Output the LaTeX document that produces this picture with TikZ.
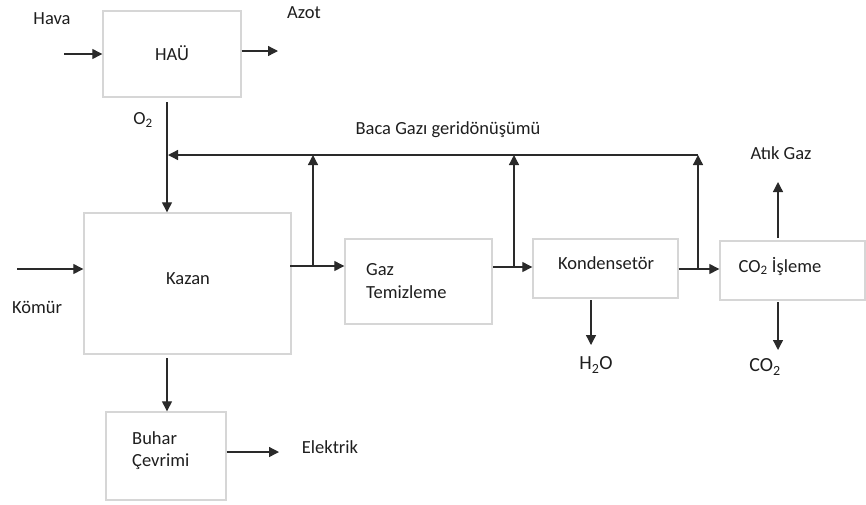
\documentclass[tikz,border=0pt]{standalone}
\usepackage{fontspec}
\setmainfont{Carlito}
\usetikzlibrary{arrows.meta}
\definecolor{boxline}{HTML}{D6D6D6}
\definecolor{flowline}{HTML}{2A2A2A}
\definecolor{ink}{HTML}{1E1E1E}
\begin{document}
\begin{tikzpicture}[x=1pt,y=-1pt,
  unit/.style={draw=boxline,line width=1.4pt,fill=white,inner sep=0pt},
  flow/.style={draw=flowline,line width=1.3pt,-{Triangle[length=10pt,width=10pt]}},
  plain/.style={draw=flowline,line width=1.3pt},
  tag/.style={text=ink,font=\fontsize{18.5}{23}\selectfont,inner sep=0pt},
  chem/.style={text=ink,font=\fontsize{20}{24}\selectfont,inner sep=0pt}]
\useasboundingbox (0,0) rectangle (866,504);

% process units
\node[unit,minimum width=138pt,minimum height=86pt] (hau)   at (172,54)    {};
\node[unit,minimum width=207pt,minimum height=141pt] (kazan) at (187.5,283.5) {};
\node[unit,minimum width=147pt,minimum height=85pt] (gaz)   at (418.5,281.5) {};
\node[unit,minimum width=145pt,minimum height=59pt] (kond)  at (605.5,268.5) {};
\node[unit,minimum width=145pt,minimum height=59pt] (co2)   at (792.5,270.5) {};
\node[unit,minimum width=120pt,minimum height=88pt] (buhar) at (166,456)   {};

% labels inside the units
\node[tag] (thau)   at (172,53)  {HAÜ};
\node[tag] (tkazan) at (188,279) {Kazan};
\node[tag,anchor=west,align=left] (tgaz) at (366,281.5) {Gaz\\Temizleme};
\node[tag] (tkond)  at (606,263) {Kondensetör};
\node[tag] (tco2)   at (780,266) {CO\textsubscript{2} İşleme};
\node[tag,anchor=west,align=left,font=\fontsize{18.5}{22}\selectfont] (tbuhar) at (132,451) {Buhar\\Çevrimi};

% stream labels
\node[tag] (lhava)  at (52,19)   {Hava};
\node[tag] (lazot)  at (304,13)  {Azot};
\node[tag] (lo2)    at (143,120) {O\textsubscript{2}};
\node[tag] (lbaca)  at (448,130) {Baca Gazı geridönüşümü};
\node[tag] (lkomur) at (37,307)  {Kömür};
\node[tag] (latik)  at (781,153) {Atık Gaz};
\node[chem] (lh2o)  at (596,365) {H\textsubscript{2}O};
\node[chem] (lco2)  at (765,367) {CO\textsubscript{2}};
\node[tag] (lelek)  at (330,447) {Elektrik};

% free ends and junctions
\coordinate (havain)  at (64,54);
\coordinate (azotout) at (278,51);
\coordinate (o2top)   at (167,102);
\coordinate (recend)  at (167,155);
\coordinate (komurin) at (17,269);
\coordinate (k1)      at (290,266);
\coordinate (b1)      at (313,266);
\coordinate (g1)      at (493,267);
\coordinate (b2)      at (514,267);
\coordinate (b3)      at (698,269);
\coordinate (t1)      at (313,155);
\coordinate (t2)      at (514,155);
\coordinate (t3)      at (698,155);
\coordinate (kbot)    at (167,358);
\coordinate (elout)   at (279,452);
\coordinate (h2oout)  at (591,345);
\coordinate (kondbot) at (591,300);
\coordinate (co2top)  at (778,238);
\coordinate (atikout) at (778,182);
\coordinate (co2bot)  at (778,302);
\coordinate (co2out)  at (778,350);

% air separation
\draw[flow] (havain) -- (hau.west);
\draw[flow] (hau.east |- azotout) -- (azotout);
\draw[flow] (o2top) -- (kazan.north -| o2top);

% main gas path
\draw[flow] (komurin) -- (kazan.west |- komurin);
\draw[flow] (k1) -- (gaz.west |- k1);
\draw[flow] (g1) -- (kond.west |- g1);
\draw[flow] (kond.east |- b3) -- (co2.west |- b3);

% flue gas recycle
\draw[flow] (b1) -- (t1);
\draw[flow] (b2) -- (t2);
\draw[flow] (b3) -- (t3);
\draw[flow] (t3) -- ([xshift=1pt]recend);

% products
\draw[flow] (kondbot) -- (h2oout);
\draw[flow] (co2top) -- (atikout);
\draw[flow] (co2bot) -- (co2out);
\draw[flow] (kbot) -- (buhar.north -| kbot);
\draw[flow] (buhar.east |- elout) -- (elout);
\end{tikzpicture}
\end{document}
